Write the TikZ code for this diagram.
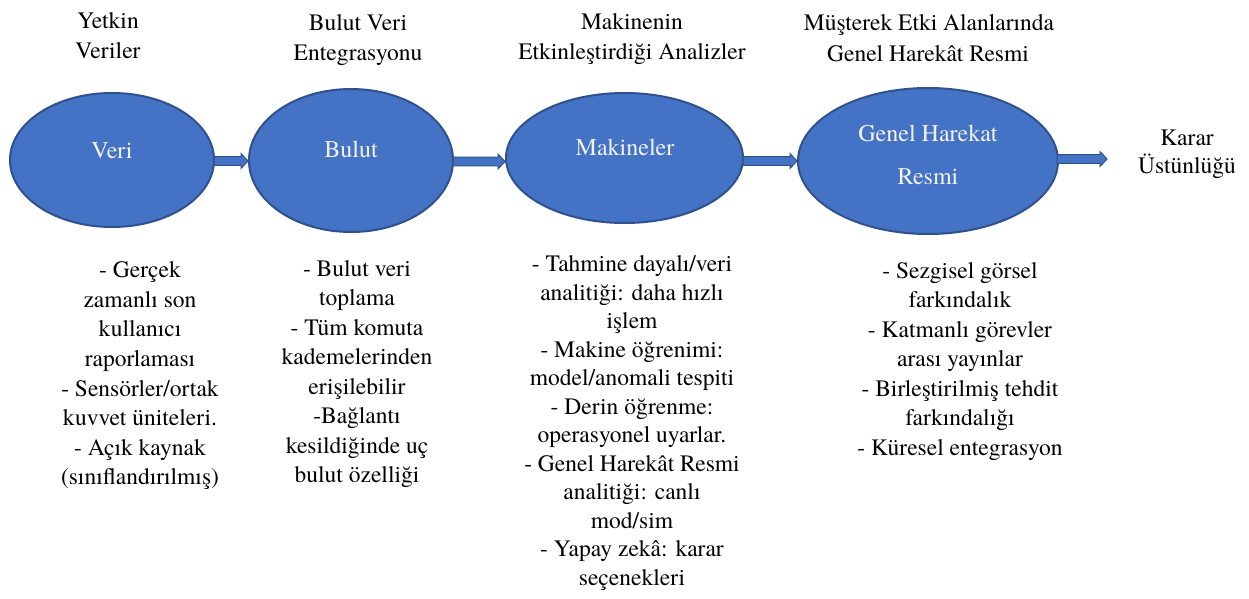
\documentclass[tikz,border=0pt]{standalone}
\usepackage{fontspec}
\newfontfamily\tnr{TeX Gyre Termes}
\usetikzlibrary{calc,shapes.geometric}
\definecolor{ellfill}{HTML}{4472C4}
\definecolor{elldraw}{HTML}{2F528F}
\definecolor{elltext}{HTML}{F2F2F2}
\tikzset{
  ell/.style={ellipse, draw=elldraw, line width=2pt, fill=ellfill, inner sep=0pt},
  elltxt/.style={anchor=base, inner sep=0pt, text=elltext, font=\tnr\fontsize{24}{28}\selectfont},
  txt/.style={anchor=base, inner sep=0pt, font=\tnr\fontsize{23.5}{28}\selectfont},
  blockarrow/.style={draw=elldraw, line width=1pt, fill=ellfill, to path={
    let \p1=(\tikztostart), \p2=(\tikztotarget) in
    (\x1,\y1-4.3pt) -- (\x2-7pt,\y1-4.3pt) -- (\x2-7pt,\y1-7.5pt) -- (\x2,\y1) --
    (\x2-7pt,\y1+7.5pt) -- (\x2-7pt,\y1+4.3pt) -- (\x1,\y1+4.3pt) -- cycle}}
}
\begin{document}
\begin{tikzpicture}[x=1pt,y=-1pt]
\useasboundingbox[fill=white] (0,0) rectangle (1249,599);
% ellipses
\node[ell, minimum width=204pt, minimum height=134pt] (e1) at (112,160) {};
\node[ell, minimum width=204pt, minimum height=143pt] (e2) at (351,160.5) {};
\node[ell, minimum width=237pt, minimum height=130pt] (e3) at (624.5,158) {};
\node[ell, minimum width=260pt, minimum height=146pt] (e4) at (928,161) {};
\coordinate (k) at (1107,159);
% arrows
\path[blockarrow] ($(e1.east)+(-1,1)$) to (e2.west);
\path[blockarrow] ($(e2.east)+(-1,1)$) to (e3.west);
\path[blockarrow] ($(e3.east)+(-1,3)$) to (e4.west);
\path[blockarrow] ($(e4.east)+(-2,-2)$) to (k);
% ellipse texts
\node[elltxt] (t1) at (112,158) {Veri};
\node[elltxt] (t2) at (351,157) {Bulut};
\node[elltxt] (t3) at (625,155) {Makineler};
\node[elltxt] (t4a) at (928,141) {Genel Harekat};
\node[elltxt] (t4b) at (928,184) {Resmi};
% titles
\node[txt] (h1a) at (108,29) {Yetkin};
\node[txt] (h1b) at (108,59) {Veriler};
\node[txt] (h2a) at (358,31) {Bulut Veri};
\node[txt] (h2b) at (358,61) {Entegrasyonu};
\node[txt] (h3a) at (632,30) {Makinenin};
\node[txt] (h3b) at (632,60) {Etkinleştirdiği Analizler};
\node[txt] (h4a) at (929,31) {Müşterek Etki Alanlarında};
\node[txt] (h4b) at (928,62) {Genel Harekât Resmi};
\node[txt] (r1) at (1187,145) {Karar};
\node[txt] (r2) at (1187,173) {Üstünlüğü};
% columns
\foreach \t [count=\i] in {{- Gerçek},{zamanlı son},{kullanıcı},{raporlaması},{- Sensörler/ortak},{kuvvet üniteleri.},{- Açık kaynak},{(sınıflandırılmış)}}
  \node[txt] (c1-\i) at (140,{277.7+(\i-1)*29.6}) {\t};
\foreach \t [count=\i] in {{- Bulut veri},{toplama},{- Tüm komuta},{kademelerinden},{erişilebilir},{-Bağlantı},{kesildiğinde uç},{bulut özelliği}}
  \node[txt] (c2-\i) at (357,{276+(\i-1)*29.5}) {\t};
\foreach \t [count=\i] in {{- Tahmine dayalı/veri},{analitiği: daha hızlı},{işlem},{- Makine öğrenimi:},{model/anomali tespiti},{- Derin öğrenme:},{operasyonel uyarlar.},{- Genel Harekât Resmi},{analitiği: canlı},{mod/sim},{- Yapay zekâ: karar},{seçenekleri}}
  \node[txt] (c3-\i) at (632,{271.7+(\i-1)*28.5}) {\t};
\foreach \t [count=\i] in {{- Sezgisel görsel},{farkındalık},{- Katmanlı görevler},{arası yayınlar},{- Birleştirilmiş tehdit},{farkındalığı},{- Küresel entegrasyon}}
  \node[txt] (c4-\i) at (960,{278+(\i-1)*29.5}) {\t};
\end{tikzpicture}
\end{document}
